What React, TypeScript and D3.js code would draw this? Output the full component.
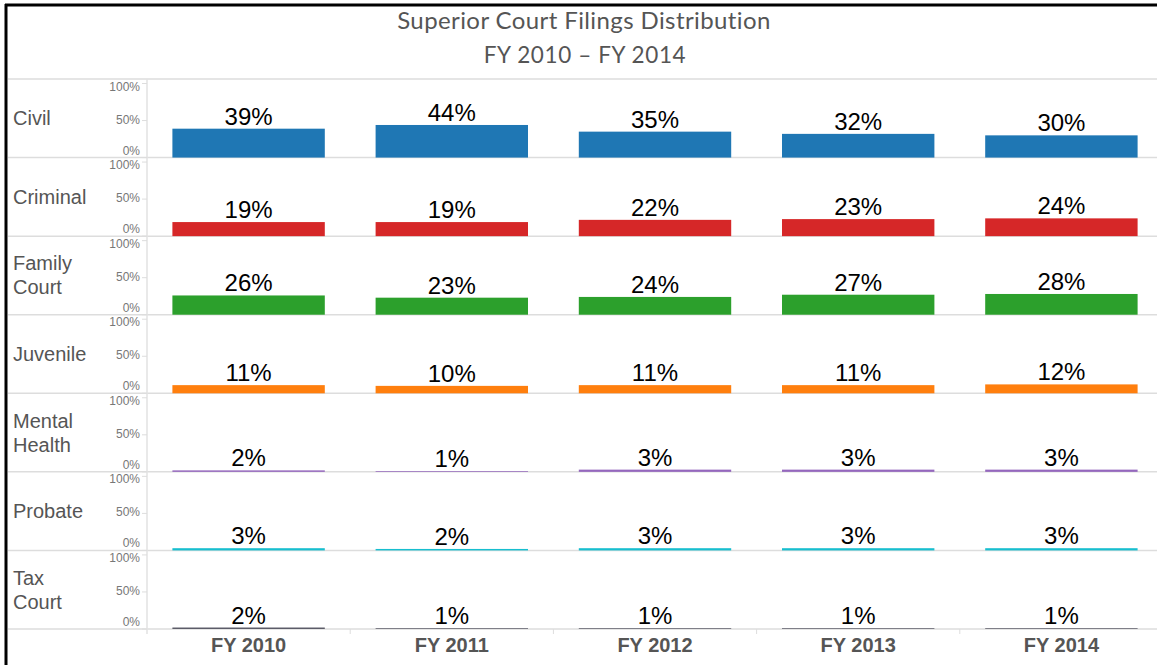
import React, {useEffect, useRef} from 'react'
import * as d3 from 'd3'

const years = ["FY 2010", "FY 2011", "FY 2012", "FY 2013", "FY 2014"];
const categories = ["Civil", "Criminal", "Family Court", "Juvenile", "Mental Health", "Probate", "Tax Court"];
const categoryLines = [["Civil"], ["Criminal"], ["Family", "Court"], ["Juvenile"], ["Mental", "Health"], ["Probate"], ["Tax", "Court"]];
const civil = [39, 44, 35, 32, 30];
const criminal = [19, 19, 22, 23, 24];
const familyCourt = [26, 23, 24, 27, 28];
const juvenile = [11, 10, 11, 11, 12];
const mentalHealth = [2, 1, 3, 3, 3];
const probate = [3, 2, 3, 3, 3];
const taxCourt = [2, 1, 1, 1, 1];
const yTicks = [0, 50, 100];

const seriesValues = [civil, criminal, familyCourt, juvenile, mentalHealth, probate, taxCourt];
const colors = ["#1f77b4", "#d62728", "#2ca02c", "#ff7f0e", "#9467bd", "#17becf", "#5c5c68"];

const width = 1157;
const height = 665;
const margin = ({top: 79, right: -6, bottom: 36, left: 147});
const font = "Arial, 'Liberation Sans', sans-serif";

export default function App() {
    const ref = useRef(null);

    useEffect(() => {
        const svg = d3.select(ref.current);
        svg.selectAll("*").remove();

        const rowHeight = (height - margin.bottom - margin.top) / categories.length;

        const x = d3.scaleBand()
            .domain(years)
            .range([margin.left, width - margin.right])
            .paddingInner(0.25)
            .paddingOuter(0.125);

        const row = d3.scaleBand()
            .domain(categories)
            .range([margin.top, height - margin.bottom]);

        // frame
        svg.append("rect").attr("x", 0).attr("y", 0).attr("width", width).attr("height", height).attr("fill", "white");
        svg.append("line").attr("x1", 6).attr("x2", 6).attr("y1", 4).attr("y2", height)
            .attr("stroke", "#000").attr("stroke-width", 3);
        svg.append("line").attr("x1", 5).attr("x2", width).attr("y1", 5).attr("y2", 5)
            .attr("stroke", "#000").attr("stroke-width", 3);

        // title
        const title = svg.append("g")
            .attr("font-family", "Lato, 'Open Sans', sans-serif")
            .attr("fill", "#555")
            .attr("text-anchor", "middle");
        title.append("text").attr("x", 584).attr("y", 29).attr("font-size", 24).attr("letter-spacing", 0.4)
            .text("Superior Court Filings Distribution");
        title.append("text").attr("x", 585).attr("y", 63).attr("font-size", 22.5).attr("letter-spacing", 0.6)
            .text("FY 2010 – FY 2014");

        // grid
        const grid = svg.append("g").attr("stroke", "#ddd").attr("stroke-width", 1.5);
        grid.selectAll("line")
            .data(d3.range(categories.length + 1))
            .join("line")
            .attr("x1", 8).attr("x2", width)
            .attr("y1", i => margin.top + i * rowHeight)
            .attr("y2", i => margin.top + i * rowHeight);
        svg.append("line")
            .attr("x1", margin.left).attr("x2", margin.left)
            .attr("y1", margin.top).attr("y2", height - margin.bottom + 5)
            .attr("stroke", "#e2e2e2").attr("stroke-width", 1.5);
        svg.append("g").attr("stroke", "#ddd")
            .selectAll("line")
            .data(years.slice(1))
            .join("line")
            .attr("x1", d => x(d) - x.step() * x.paddingInner() / 2)
            .attr("x2", d => x(d) - x.step() * x.paddingInner() / 2)
            .attr("y1", height - margin.bottom)
            .attr("y2", height - margin.bottom + 5);

        categories.forEach((cat, ci) => {
            const top = row(cat);
            const y = d3.scaleLinear()
                .domain([0, 100])
                .range([top + rowHeight, top + 4.5]);

            const g = svg.append("g");

            // row label
            const lines = categoryLines[ci];
            const label = g.append("text")
                .attr("font-family", font)
                .attr("font-size", 20)
                .attr("fill", "#555")
                .attr("x", 13)
                .attr("y", top + rowHeight / 2 - (lines.length - 1) * 12 + 7);
            lines.forEach((t, li) => label.append("tspan").attr("x", 13).attr("dy", li === 0 ? 0 : 24).text(t));

            // y axis
            const axis = g.append("g")
                .attr("font-family", font)
                .attr("font-size", 12)
                .attr("fill", "#777");
            axis.selectAll("line")
                .data(yTicks)
                .join("line")
                .attr("x1", margin.left - 5).attr("x2", margin.left)
                .attr("y1", d => y(d)).attr("y2", d => y(d))
                .attr("stroke", "#ddd");
            axis.selectAll("text")
                .data(yTicks)
                .join("text")
                .attr("text-anchor", "end")
                .attr("x", margin.left - 7)
                .attr("y", d => y(d) + (d === 0 ? -3 : d === 100 ? 7 : 3))
                .text(d => `${d}%`);

            const data = seriesValues[ci].map((v, i) => ({year: years[i], value: v}));

            g.append("g")
                .attr("fill", colors[ci])
                .selectAll("rect")
                .data(data)
                .join("rect")
                .attr("x", d => x(d.year))
                .attr("width", x.bandwidth())
                .attr("y", d => y(d.value))
                .attr("height", d => y(0) - y(d.value));

            g.append("g")
                .attr("font-family", font)
                .attr("font-size", 24)
                .attr("fill", "#000")
                .attr("text-anchor", "middle")
                .selectAll("text")
                .data(data)
                .join("text")
                .attr("x", d => x(d.year) + x.bandwidth() / 2)
                .attr("y", d => y(d.value) - 4)
                .text(d => `${d.value}%`);
        });

        // x axis labels
        svg.append("g")
            .attr("font-family", font)
            .attr("font-size", 20)
            .attr("font-weight", "bold")
            .attr("fill", "#555")
            .attr("text-anchor", "middle")
            .selectAll("text")
            .data(years)
            .join("text")
            .attr("x", d => x(d) + x.bandwidth() / 2)
            .attr("y", height - margin.bottom + 23)
            .text(d => d);
    }, []);

    return <svg ref={ref} width={width} height={height}
                style={{position: "absolute", left: 0, top: 0, display: "block"}}/>;
}
